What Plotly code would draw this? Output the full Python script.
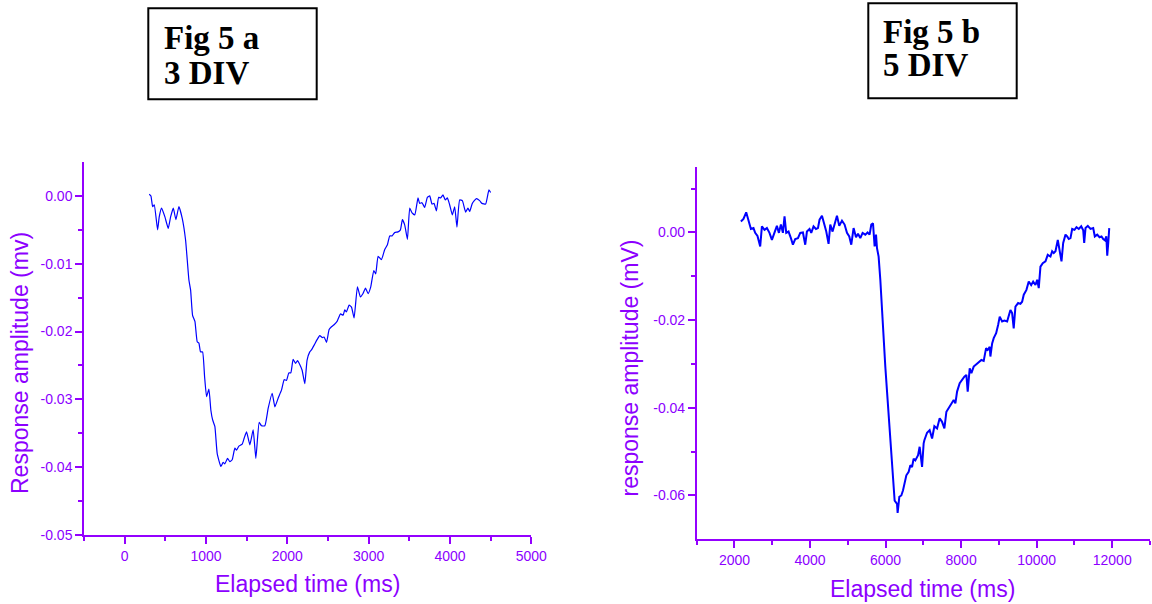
import plotly.graph_objects as go

# ---- Fig 5a: 3 DIV response trace ----
time_a = [302, 323, 344, 364, 405, 425, 454, 495, 536, 565, 598, 630, 667, 708, 749, 790, 811, 835,
          864, 892, 913, 933, 958, 983, 1007, 1036, 1060, 1081, 1109, 1138, 1183, 1211, 1232, 1265,
          1294, 1322, 1355, 1376, 1404, 1445, 1470, 1499, 1539, 1580, 1613, 1654, 1683, 1724, 1765,
          1814, 1847, 1888, 1929, 1961, 1990, 2018, 2043, 2071, 2101, 2125, 2154, 2182, 2215, 2243,
          2276, 2297, 2330, 2366, 2399, 2432, 2453, 2482, 2514, 2543, 2575, 2612, 2654, 2686, 2706,
          2727, 2760, 2789, 2821, 2862, 2899, 2931, 2961, 2993, 3026, 3063, 3087, 3116, 3157, 3198,
          3231, 3259, 3288, 3321, 3361, 3391, 3415, 3444, 3477, 3505, 3534, 3567, 3607, 3628, 3656,
          3689, 3722, 3751, 3779, 3804, 3833, 3861, 3886, 3914, 3943, 3968, 3996, 4029, 4058, 4086,
          4119, 4152, 4193, 4221, 4242, 4275, 4324, 4365, 4393, 4439, 4479, 4500]
amp_a = [0.00025, 0.0, -0.00157, -0.00133, -0.0050, -0.0031, -0.0018, -0.0031, -0.0048, -0.0031,
         -0.0018, -0.0035, -0.00157, -0.0033, -0.0065, -0.0124, -0.0139, -0.0176, -0.0185, -0.0215,
         -0.0217, -0.0230, -0.0230, -0.0267, -0.0296, -0.0285, -0.0316, -0.0330, -0.0340, -0.0380,
         -0.0399, -0.0393, -0.0395, -0.0387, -0.0392, -0.0389, -0.0372, -0.0375, -0.0369, -0.0366,
         -0.0357, -0.0348, -0.0367, -0.0345, -0.0387, -0.0334, -0.0339, -0.0339, -0.0313, -0.0291,
         -0.0311, -0.0298, -0.0286, -0.0271, -0.0272, -0.0261, -0.0261, -0.0241, -0.0247, -0.0243,
         -0.0249, -0.0257, -0.0277, -0.0242, -0.0230, -0.0227, -0.0220, -0.0212, -0.0206, -0.0209,
         -0.0208, -0.0216, -0.0197, -0.0193, -0.0190, -0.0185, -0.0174, -0.0176, -0.0168, -0.0171,
         -0.0161, -0.0164, -0.0180, -0.0134, -0.0149, -0.0144, -0.0136, -0.0144, -0.0134, -0.0110,
         -0.0115, -0.0089, -0.0094, -0.0079, -0.0072, -0.0059, -0.0059, -0.0054, -0.0053, -0.0050,
         -0.0035, -0.0043, -0.0064, -0.0018, -0.0025, -0.0028, -0.0003, -0.0011, -0.0010, -0.0017,
         -0.0002, 0.0000, -0.0012, -0.0011, -0.0022, -0.0002, -0.0003, 0.00015, -0.0006, -0.0003,
         -0.0013, -0.0028, -0.0016, -0.0046, -0.0006, -0.0007, -0.0024, -0.0018, -0.0023, -0.0011,
         -0.0004, -0.0007, -0.0011, -0.0012, 0.0009, 0.0005]

# ---- Fig 5b: 5 DIV response trace ----
time_b = [2170, 2238, 2310, 2371, 2435, 2503, 2548, 2609, 2681, 2726, 2795, 2858, 2927, 2991, 3060,
          3123, 3176, 3229, 3282, 3325, 3370, 3431, 3494, 3547, 3608, 3680, 3741, 3812, 3873, 3918,
          3987, 4032, 4093, 4157, 4210, 4252, 4316, 4377, 4430, 4491, 4536, 4597, 4650, 4713, 4774,
          4846, 4915, 4978, 5039, 5092, 5153, 5217, 5270, 5331, 5392, 5463, 5524, 5577, 5622, 5667,
          5710, 5747, 5773, 5816, 5861, 5922, 5993, 6054, 6126, 6187, 6240, 6303, 6319, 6364, 6417,
          6462, 6505, 6550, 6611, 6656, 6701, 6743, 6788, 6860, 6902, 6966, 7008, 7027, 7098, 7167,
          7231, 7292, 7363, 7432, 7495, 7557, 7610, 7689, 7761, 7803, 7848, 7893, 7962, 8026, 8086,
          8139, 8174, 8227, 8272, 8333, 8404, 8465, 8537, 8598, 8661, 8704, 8757, 8775, 8821, 8863,
          8927, 8979, 9022, 9085, 9146, 9218, 9260, 9305, 9350, 9392, 9438, 9509, 9570, 9615, 9658,
          9729, 9790, 9854, 9907, 9968, 10013, 10055, 10100, 10161, 10233, 10293, 10365, 10410,
          10453, 10498, 10559, 10612, 10657, 10702, 10763, 10807, 10850, 10895, 10940, 11001, 11054,
          11115, 11179, 11232, 11258, 11293, 11354, 11425, 11497, 11539, 11603, 11664, 11717, 11762,
          11807, 11844, 11868, 11895, 11921]
amp_b = [0.0025, 0.0031, 0.0046, 0.0027, 0.0008, 0.0010, -0.0001, -0.0008, -0.0032, 0.0014, 0.0006,
         0.0010, -0.0001, -0.0017, 0.0002, 0.0015, -0.0001, 0.0018, -0.0001, 0.0037, -0.0001, 0.0002,
         -0.0013, -0.0028, -0.0015, -0.0013, -0.0001, 0.0000, -0.0028, 0.0002, 0.0008, -0.0001,
         0.0014, 0.0008, 0.0010, 0.0029, 0.0038, 0.0018, 0.0002, -0.0026, 0.0018, 0.0002, 0.0021,
         0.0038, 0.0015, 0.0027, 0.0018, -0.0001, -0.0009, -0.0028, 0.0010, -0.0011, -0.0003,
         -0.0013, -0.0001, -0.0005, 0.0000, -0.0005, 0.0018, 0.0021, -0.0032, -0.0005, -0.0036,
         -0.0055, -0.0108, -0.0215, -0.0306, -0.0382, -0.0474, -0.0558, -0.0612, -0.0619, -0.0640,
         -0.0603, -0.0600, -0.0588, -0.0573, -0.0554, -0.0546, -0.0531, -0.0535, -0.0516, -0.0520,
         -0.0508, -0.0489, -0.0535, -0.0481, -0.0474, -0.0457, -0.0451, -0.0470, -0.0442, -0.0447,
         -0.0424, -0.0432, -0.0447, -0.0409, -0.0398, -0.0390, -0.0382, -0.0390, -0.0363, -0.0344,
         -0.0335, -0.0329, -0.0325, -0.0363, -0.0310, -0.0321, -0.0306, -0.0300, -0.0295, -0.0291,
         -0.0293, -0.0264, -0.0268, -0.0261, -0.0283, -0.0253, -0.0241, -0.0230, -0.0211, -0.0192,
         -0.0203, -0.0201, -0.0203, -0.0192, -0.0177, -0.0184, -0.0219, -0.0169, -0.0161, -0.0163,
         -0.0158, -0.0142, -0.0131, -0.0112, -0.0120, -0.0112, -0.0120, -0.0108, -0.0127, -0.0078,
         -0.0070, -0.0066, -0.0051, -0.0055, -0.0043, -0.0047, -0.0043, -0.0017, -0.0047, -0.0066,
         -0.0024, -0.0005, -0.0009, -0.0015, -0.0013, 0.0008, 0.0006, 0.0012, 0.0008, 0.0014, 0.0005,
         -0.0024, 0.0010, 0.0015, 0.0008, 0.0010, -0.0009, -0.0005, -0.0011, -0.0009, -0.0015,
         -0.0018, -0.0009, -0.0053, -0.0024, 0.0010]

# ---- tick positions and labels ----
xticks_a = [0, 1000, 2000, 3000, 4000, 5000]
xlabels_a = ["0", "1000", "2000", "3000", "4000", "5000"]
xminor_a = [-500, 500, 1500, 2500, 3500, 4500]
yticks_a = [0.0, -0.01, -0.02, -0.03, -0.04, -0.05]
ylabels_a = ["0.00", "-0.01", "-0.02", "-0.03", "-0.04", "-0.05"]
yminor_a = [-0.005, -0.015, -0.025, -0.035, -0.045]

xticks_b = [2000, 4000, 6000, 8000, 10000, 12000]
xlabels_b = ["2000", "4000", "6000", "8000", "10000", "12000"]
xminor_b = [1000, 3000, 5000, 7000, 9000, 11000, 13000]
yticks_b = [0.0, -0.02, -0.04, -0.06]
ylabels_b = ["0.00", "-0.02", "-0.04", "-0.06"]
yminor_b = [0.01, -0.01, -0.03, -0.05]

AXIS_COLOR = "#9400ff"
TEXT_COLOR = "#8c00ff"
SANS = "Liberation Sans, Arial, sans-serif"
SERIF = "Liberation Serif, Times New Roman, serif"
W, H = 1152, 604

fig = go.Figure()
fig.add_trace(go.Scatter(x=time_a, y=amp_a, mode="lines", xaxis="x", yaxis="y",
                         line=dict(color="#0000ff", width=1.2, shape="spline", smoothing=0.4),
                         showlegend=False, hoverinfo="skip"))
fig.add_trace(go.Scatter(x=time_b, y=amp_b, mode="lines", xaxis="x2", yaxis="y2",
                         line=dict(color="#0000ff", width=2),
                         showlegend=False, hoverinfo="skip"))


def axis_style(tickvals, ticktext, minor_vals, rng, domain, anchor):
    return dict(
        range=rng, domain=domain, anchor=anchor, automargin=False,
        showline=True, linecolor=AXIS_COLOR, linewidth=1.5,
        showgrid=False, zeroline=False,
        ticks="outside", ticklen=7, tickwidth=1.5, tickcolor=AXIS_COLOR,
        tickmode="array", tickvals=tickvals, ticktext=ticktext,
        tickfont=dict(family=SANS, size=14, color=TEXT_COLOR),
        minor=dict(tickmode="array", tickvals=minor_vals, ticks="outside",
                   ticklen=4, tickwidth=1.5, tickcolor=AXIS_COLOR, showgrid=False),
    )


def px_x(p):
    return p / W


def px_y(p):
    return 1 - p / H


fig.update_layout(
    template="none",
    width=W, height=H, autosize=False,
    margin=dict(l=0, r=0, t=0, b=0, pad=0),
    paper_bgcolor="white", plot_bgcolor="white",
    xaxis=axis_style(xticks_a, xlabels_a, xminor_a, [-500, 5000], [px_x(84), px_x(531.3)], "y"),
    yaxis=axis_style(yticks_a, ylabels_a, yminor_a, [-0.05, 0.005], [px_y(535), px_y(162)], "x"),
    xaxis2=axis_style(xticks_b, xlabels_b, xminor_b, [1000, 13000], [px_x(696.7), px_x(1150)], "y2"),
    yaxis2=axis_style(yticks_b, ylabels_b, yminor_b, [-0.07, 0.015], [px_y(539.3), px_y(166.7)], "x2"),
)

title_font = dict(family=SANS, size=23, color=TEXT_COLOR)
annotations = [
    dict(text="Response amplitude (mv)", x=px_x(20), y=px_y(363), textangle=-90),
    dict(text="response amplitude (mV)", x=px_x(629), y=px_y(368.5), textangle=-90),
    dict(text="Elapsed time (ms)", x=px_x(307.5), y=px_y(584)),
    dict(text="Elapsed time (ms)", x=px_x(922.8), y=px_y(588.5)),
]
for a in annotations:
    fig.add_annotation(xref="paper", yref="paper", xanchor="center", yanchor="middle",
                       showarrow=False, font=title_font, **a)

# Figure label boxes
label_font = dict(family=SERIF, size=33, color="black")
boxes = [
    ((148.3, 8.3, 316.7, 99.3), 162, ("Fig 5 a", 38.2), ("3 DIV", 72.5)),
    ((868.3, 3.3, 1016.7, 98.3), 880.5, ("Fig 5 b", 31.9), ("5 DIV", 65.2)),
]
for (x0, y0, x1, y1), tx, line1, line2 in boxes:
    fig.add_shape(type="rect", xref="paper", yref="paper",
                  x0=px_x(x0), x1=px_x(x1), y0=px_y(y1), y1=px_y(y0),
                  line=dict(color="black", width=2), fillcolor="rgba(0,0,0,0)")
    for txt, cy in (line1, line2):
        fig.add_annotation(xref="paper", yref="paper", x=px_x(tx), y=px_y(cy),
                           xanchor="left", yanchor="middle", showarrow=False,
                           text="<b>%s</b>" % txt, font=label_font)

fig.write_html("out.html")
